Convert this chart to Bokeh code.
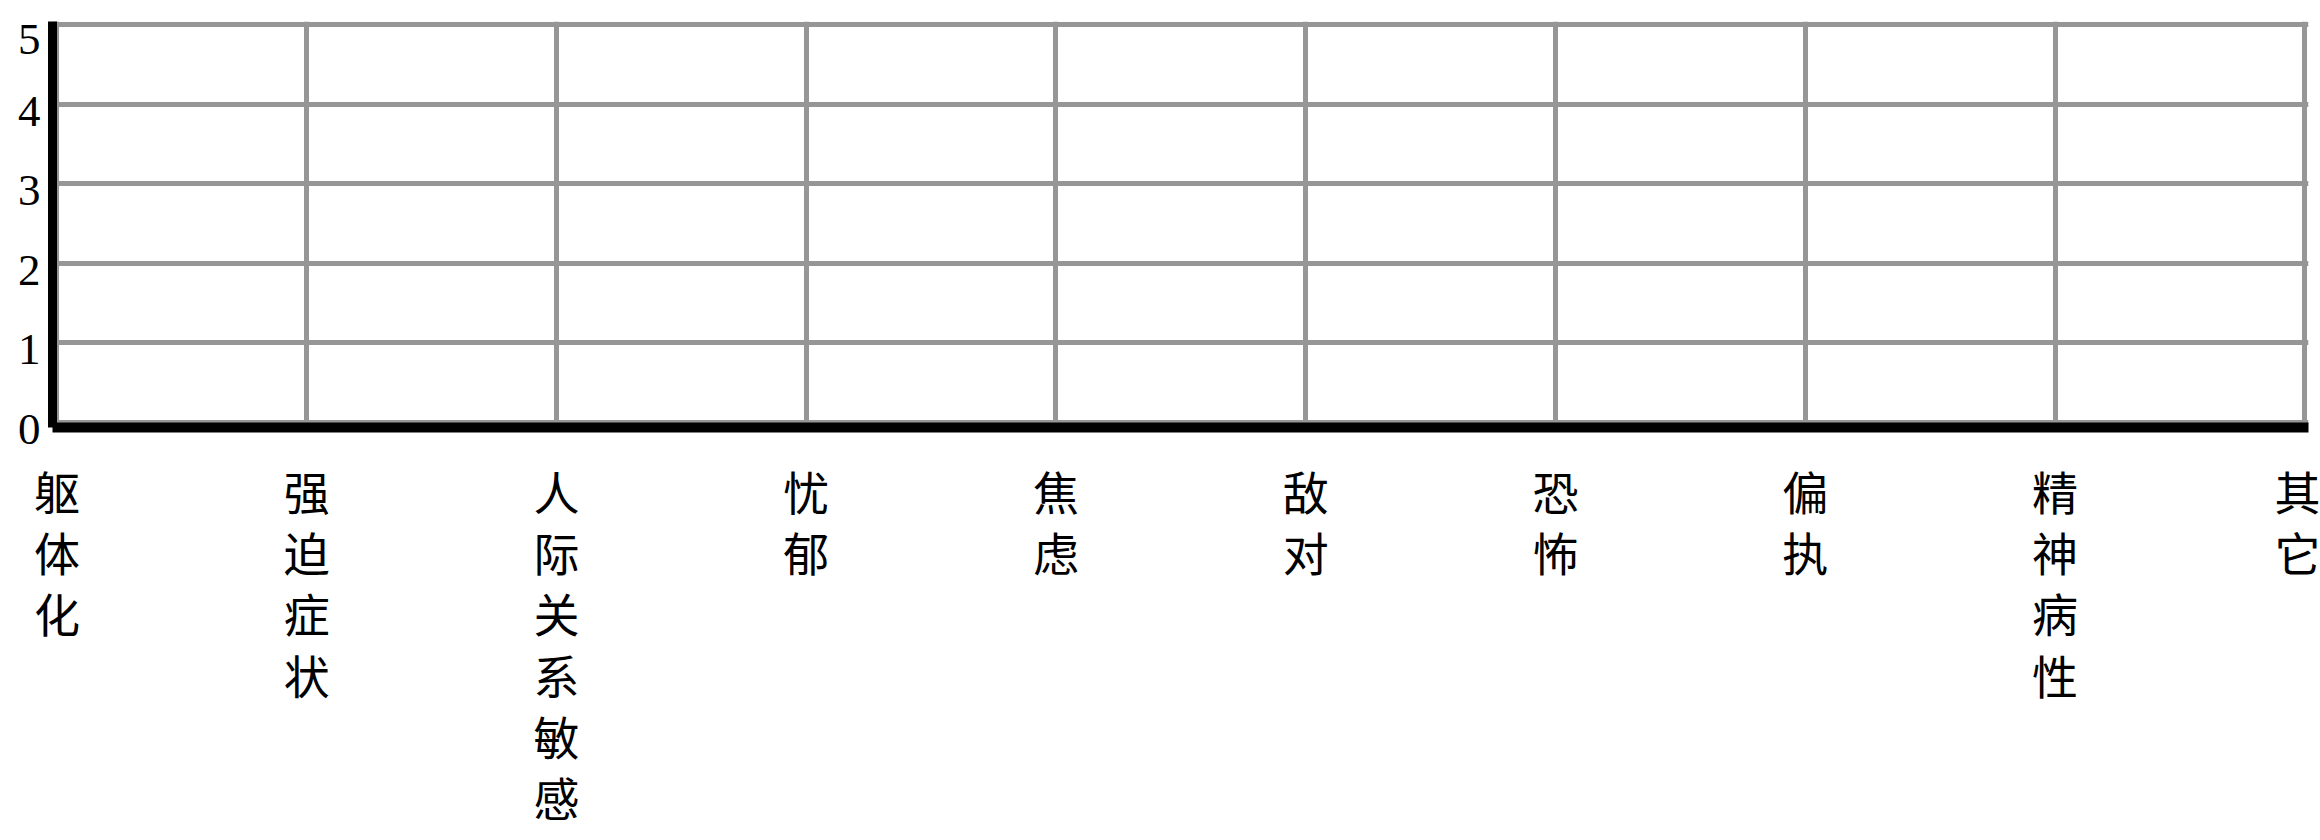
from bokeh.plotting import figure
from bokeh.models import Range1d, FixedTicker
from bokeh.embed import file_html
from bokeh.resources import INLINE

# ---- data ----
categories = ["躯体化", "强迫症状", "人际关系敏感", "忧郁", "焦虑",
              "敌对", "恐怖", "偏执", "精神病性", "其它"]
y_ticks = [0, 1, 2, 3, 4, 5]

positions = list(range(len(categories)))

p = figure(width=2320, height=840, output_backend="svg", toolbar_location=None,
           x_range=Range1d(-0.018, 9.015), y_range=Range1d(-0.063, 5.044),
           min_border_left=52, min_border_right=12, min_border_top=21,
           min_border_bottom=413)
p.outline_line_color = None
p.background_fill_color = "white"
p.border_fill_color = "white"

# x axis with vertically stacked category labels
xa = p.xaxis[0]
xa.ticker = FixedTicker(ticks=positions)
xa.major_label_overrides = {i: "\n".join(list(c)) for i, c in zip(positions, categories)}
xa.axis_line_color = "black"
xa.axis_line_width = 10
xa.major_tick_line_color = None
xa.minor_tick_line_color = None
xa.major_label_standoff = 23
xa.major_label_text_font = "Noto Sans CJK SC"
xa.major_label_text_font_size = "46px"
xa.major_label_text_line_height = 0.93
xa.major_label_text_align = "center"
xa.major_label_text_color = "black"

# y axis (labels sit slightly below their grid lines, as in the reference)
ya = p.yaxis[0]
ya.ticker = FixedTicker(ticks=y_ticks)
ya.major_label_overrides = {t: "\n" + str(t) for t in y_ticks}
ya.axis_line_color = "black"
ya.axis_line_width = 9
ya.major_tick_line_color = None
ya.minor_tick_line_color = None
ya.major_label_standoff = 6
ya.major_label_text_font = "Liberation Serif"
ya.major_label_text_font_size = "45px"
ya.major_label_text_line_height = 0.26
ya.major_label_text_color = "black"

for g in (p.xgrid[0], p.ygrid[0]):
    g.grid_line_color = "#969696"
    g.grid_line_width = 5

open("out.html", "w").write(file_html(p, INLINE))
